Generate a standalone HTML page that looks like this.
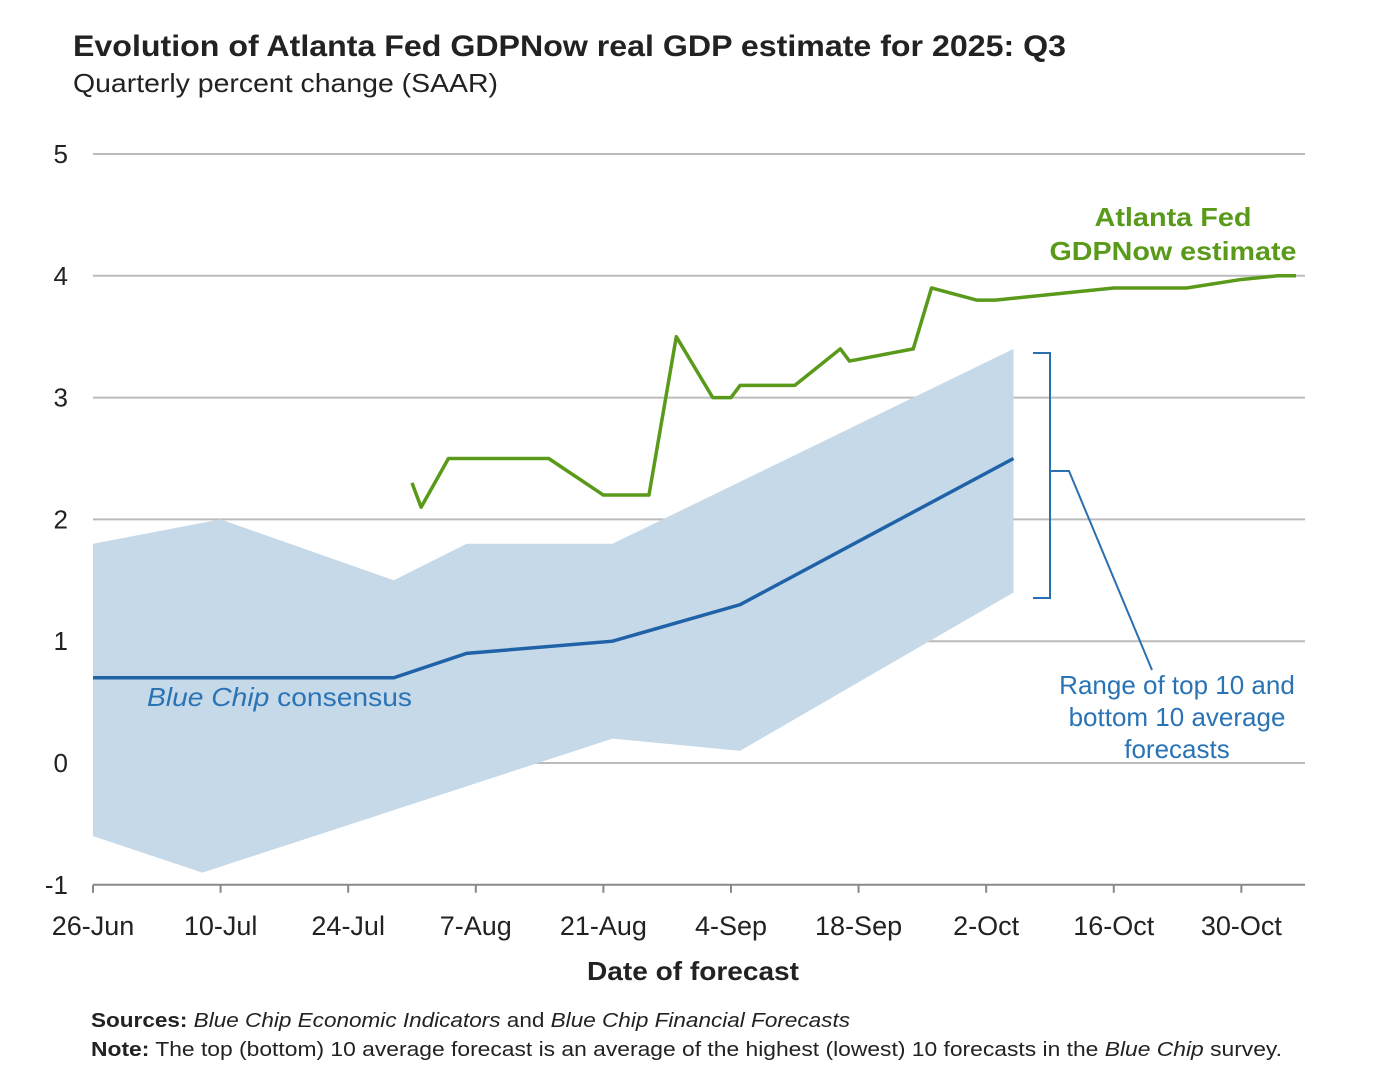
<!DOCTYPE html>
<html><head><meta charset="utf-8">
<style>
body{margin:0;background:#fff;width:1392px;height:1078px;overflow:hidden;font-family:"Liberation Sans",sans-serif;}
svg text{font-family:"Liberation Sans",sans-serif;}
</style></head>
<body>
<svg id="chart" width="1392" height="1078" xmlns="http://www.w3.org/2000/svg">
<text x="73" y="56" font-size="30" font-weight="bold" fill="#222" textLength="993" lengthAdjust="spacingAndGlyphs">Evolution of Atlanta Fed GDPNow real GDP estimate for 2025: Q3</text>
<text x="73" y="92" font-size="26" fill="#222" textLength="425" lengthAdjust="spacingAndGlyphs">Quarterly percent change (SAAR)</text>
<g id="grid"></g>
<g id="band"></g>
<g id="lines"></g>
<g id="xaxis"></g>
<text x="693" y="980" font-size="26" font-weight="bold" text-anchor="middle" fill="#222" textLength="212" lengthAdjust="spacingAndGlyphs">Date of forecast</text>
<text x="1173" y="226" font-size="26" font-weight="bold" text-anchor="middle" fill="#5a9a1a" textLength="157" lengthAdjust="spacingAndGlyphs">Atlanta Fed</text>
<text x="1173" y="260" font-size="26" font-weight="bold" text-anchor="middle" fill="#5a9a1a" textLength="247" lengthAdjust="spacingAndGlyphs">GDPNow estimate</text>
<text x="147" y="706" font-size="26" fill="#2a73b5" textLength="265" lengthAdjust="spacingAndGlyphs"><tspan font-style="italic">Blue Chip</tspan> consensus</text>
<g fill="none" stroke="#2a6fb0" stroke-width="2">
<path d="M1033,353 H1050 V471 H1054 M1050,471 V598 H1033"/>
<path d="M1054,471 H1069 L1152,670"/>
</g>
<text font-size="26" text-anchor="middle" fill="#2a73b5"><tspan x="1177" y="694">Range of top 10 and</tspan><tspan x="1177" y="726">bottom 10 average</tspan><tspan x="1177" y="758">forecasts</tspan></text>
<text x="91" y="1027" font-size="20" fill="#222" textLength="759" lengthAdjust="spacingAndGlyphs"><tspan font-weight="bold">Sources:</tspan> <tspan font-style="italic">Blue Chip Economic Indicators</tspan> and <tspan font-style="italic">Blue Chip Financial Forecasts</tspan></text>
<text x="91" y="1056" font-size="20" fill="#222" textLength="1191" lengthAdjust="spacingAndGlyphs"><tspan font-weight="bold">Note:</tspan> The top (bottom) 10 average forecast is an average of the highest (lowest) 10 forecasts in the <tspan font-style="italic">Blue Chip</tspan> survey.</text>
</svg>
<script>
const yTicks=[5,4,3,2,1,0,-1];
const xTickLabels=["26-Jun","10-Jul","24-Jul","7-Aug","21-Aug","4-Sep","18-Sep","2-Oct","16-Oct","30-Oct"];
const xTickDays=[0,14,28,42,56,70,84,98,112,126];
const gdpDays=[35,36,39,50,56,61,64,68,70,71,77,82,83,90,92,97,99,112,120,126,130,132];
const gdpVals=[2.3,2.1,2.5,2.5,2.2,2.2,3.5,3.0,3.0,3.1,3.1,3.4,3.3,3.4,3.9,3.8,3.8,3.9,3.9,3.97,4.0,4.0];
const bcDays=[0,33,41,57,71,101];
const bcVals=[0.7,0.7,0.9,1.0,1.3,2.5];
const topDays=[0,14,33,41,57,101];
const topVals=[1.8,2.0,1.5,1.8,1.8,3.4];
const botDays=[0,12,57,71,101];
const botVals=[-0.6,-0.9,0.2,0.1,1.4];
const X=d=>93+d*9.114, Y=v=>763-v*121.8;
const NS="http://www.w3.org/2000/svg";
function mk(t,a,p){const e=document.createElementNS(NS,t);for(const k in a)e.setAttribute(k,a[k]);p.appendChild(e);return e;}
const grid=document.getElementById('grid');
yTicks.forEach(v=>{
 if(v>-1){const l=mk('line',{x1:93,x2:1305,y1:Y(v),y2:Y(v),stroke:'#bbb','stroke-width':2},grid);
 
 }
 const t=mk('text',{x:68,y:Y(v)+9,'font-size':26,'text-anchor':'end',fill:'#222'},grid);t.textContent=v;
 
 
});
const xa=document.getElementById('xaxis');
const ax=mk('line',{x1:93,x2:1305,y1:Y(-1),y2:Y(-1),stroke:'#888','stroke-width':2},xa);


xTickLabels.forEach((s,i)=>{
 mk('line',{x1:X(xTickDays[i]),x2:X(xTickDays[i]),y1:Y(-1),y2:Y(-1)+8,stroke:'#888','stroke-width':2},xa);
 const t=mk('text',{x:X(xTickDays[i]),y:935,'font-size':27,'text-anchor':'middle',fill:'#222'},xa);t.textContent=s;
 
 
});
let pts=topDays.map((d,i)=>X(d)+','+Y(topVals[i]));
pts=pts.concat(botDays.slice().reverse().map((d,j)=>{const i=botDays.length-1-j;return X(d)+','+Y(botVals[i]);}));
const band=mk('polygon',{points:pts.join(' '),fill:'#c5d9e8'},document.getElementById('band'));


const lg=document.getElementById('lines');
const bc=mk('polyline',{points:bcDays.map((d,i)=>X(d)+','+Y(bcVals[i])).join(' '),fill:'none',stroke:'#1f62a8','stroke-width':3.5},lg);


const g=mk('polyline',{points:gdpDays.map((d,i)=>X(d)+','+Y(gdpVals[i])).join(' '),fill:'none',stroke:'#5a9a1a','stroke-width':3.5,'stroke-linejoin':'round'},lg);


</script>
</body></html>
